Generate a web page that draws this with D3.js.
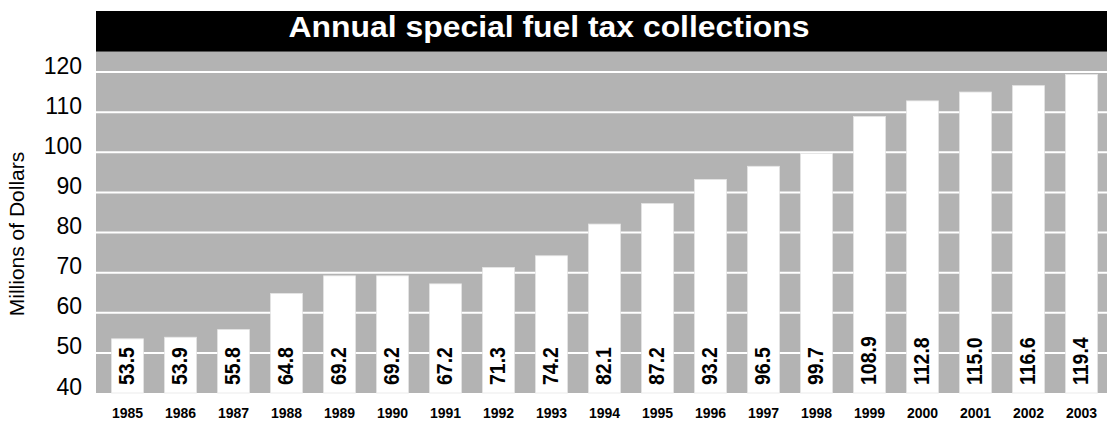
<!DOCTYPE html>
<html>
<head>
<meta charset="utf-8">
<script src="https://cdn.jsdelivr.net/npm/d3@7"></script>
<style>
  body { margin: 0; background: #fff; }
  text { font-family: Arial, "Liberation Sans", sans-serif; }
</style>
</head>
<body>
<svg width="1107" height="424"></svg>
<script>
const years = ['1985', '1986', '1987', '1988', '1989', '1990', '1991', '1992', '1993', '1994',
  '1995', '1996', '1997', '1998', '1999', '2000', '2001', '2002', '2003'];
const values = [53.5, 53.9, 55.8, 64.8, 69.2, 69.2, 67.2, 71.3, 74.2, 82.1,
  87.2, 93.2, 96.5, 99.7, 108.9, 112.8, 115.0, 116.6, 119.4];
const yTicks = [40, 50, 60, 70, 80, 90, 100, 110, 120];
const title = 'Annual special fuel tax collections';
const yTitle = 'Millions of Dollars';

const svg = d3.select('svg');
const plotL = 96, plotR = 1107, plotT = 51, plotB = 393;

const xScale = d3.scaleBand()
  .domain(years)
  .range([101, 1108])
  .paddingInner(0.4)
  .paddingOuter(0.2);
const yScale = d3.scaleLinear()
  .domain([40, 120])
  .range([plotB, 72]);

// title bar
svg.append('rect')
  .attr('x', plotL).attr('y', 11)
  .attr('width', plotR - plotL).attr('height', plotT - 11)
  .attr('fill', '#000');
svg.append('text')
  .attr('transform', 'translate(549,36.5) scale(1.1,1)')
  .attr('text-anchor', 'middle')
  .attr('fill', '#fff')
  .style('font-size', '29px')
  .style('font-weight', 'bold')
  .text(title);

// plot background
svg.append('rect')
  .attr('x', plotL).attr('y', plotT)
  .attr('width', plotR - plotL).attr('height', plotB - plotT)
  .attr('fill', '#b3b3b3');
svg.append('line')
  .attr('x1', plotL).attr('x2', plotR)
  .attr('y1', plotT + 0.5).attr('y2', plotT + 0.5)
  .attr('stroke', '#555').attr('stroke-width', 1);

// gridlines
svg.append('g')
  .selectAll('line')
  .data(yTicks.slice(1))
  .join('line')
  .attr('x1', plotL).attr('x2', plotR)
  .attr('y1', d => yScale(d)).attr('y2', d => yScale(d))
  .attr('stroke', '#fff')
  .attr('stroke-width', 2);

// y axis labels
const yAxis = d3.axisLeft(yScale).tickValues(yTicks).tickSize(0).tickPadding(0);
const ya = svg.append('g')
  .attr('transform', `translate(82,0)`)
  .call(yAxis);
ya.select('.domain').remove();
ya.selectAll('text')
  .attr('dy', null)
  .attr('y', 1)
  .style('font-size', '23px')
  .attr('fill', '#000');

// y title
svg.append('text')
  .attr('transform', 'translate(24,234) rotate(-90)')
  .attr('text-anchor', 'middle')
  .style('font-size', '21px')
  .attr('fill', '#000')
  .text(yTitle);

// bars
const data = years.map((y, i) => ({ year: y, value: values[i] }));
svg.append('g')
  .selectAll('rect')
  .data(data)
  .join('rect')
  .attr('x', d => xScale(d.year))
  .attr('y', d => yScale(d.value))
  .attr('width', xScale.bandwidth())
  .attr('height', d => plotB - yScale(d.value))
  .attr('fill', '#fff')
  .attr('stroke', '#e6e6e6')
  .attr('stroke-width', 0.8);

// value labels inside bars
svg.append('g')
  .selectAll('text')
  .data(data)
  .join('text')
  .attr('transform', d => `translate(${xScale(d.year) + xScale.bandwidth() / 2 + 6},${plotB - 8}) rotate(-90) scale(1,1.13)`)
  .attr('text-anchor', 'start')
  .style('font-size', '19.5px')
  .style('font-weight', 'bold')
  .attr('fill', '#000')
  .text(d => d.value.toFixed(1));

// x axis labels
const xAxis = d3.axisBottom(xScale).tickSize(0).tickPadding(0);
const xa = svg.append('g')
  .attr('transform', `translate(0,${plotB})`)
  .call(xAxis);
xa.select('.domain').remove();
xa.selectAll('text')
  .attr('dy', null)
  .attr('y', 25)
  .style('font-size', '14px')
  .style('font-weight', 'bold')
  .attr('fill', '#000');
</script>
</body>
</html>
